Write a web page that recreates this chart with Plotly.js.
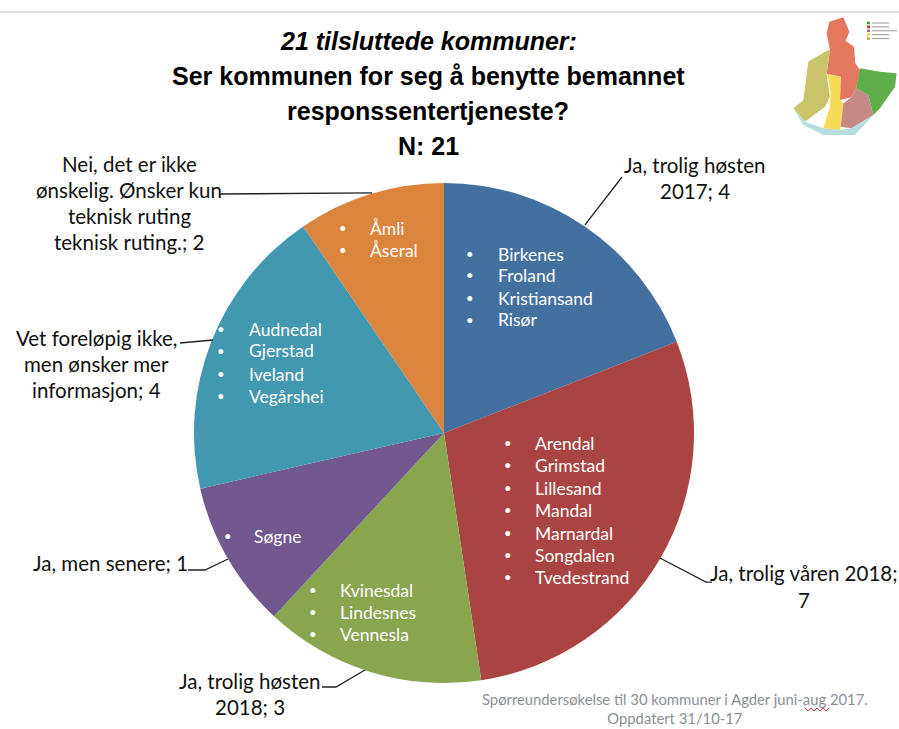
<!DOCTYPE html>
<html><head><meta charset="utf-8">
<script src="https://cdn.plot.ly/plotly-3.0.1.min.js"></script>
<style>html,body{margin:0;padding:0;background:#fff}#c{width:899px;height:729px}</style></head>
<body><div id="c"></div>
<script>
const categories = ["Ja, trolig høsten 2017","Ja, trolig våren 2018","Ja, trolig høsten 2018","Ja, men senere","Vet foreløpig ikke, men ønsker mer informasjon","Nei, det er ikke ønskelig. Ønsker kun teknisk ruting teknisk ruting."];
// Slice sizes as drawn in the picture (its printed labels say 7 and 1 for the 2nd and 4th)
const values = [4,6,3,2,4,2];
const colors = ["#44709F","#A94442","#89A54E","#71588F","#4198AF","#DB843D"];
const titleLines = ["21 tilsluttede kommuner:","Ser kommunen for seg å benytte bemannet","responssentertjeneste?","N: 21"];
const members = [
 ["Birkenes","Froland","Kristiansand","Risør"],
 ["Arendal","Grimstad","Lillesand","Mandal","Marnardal","Songdalen","Tvedestrand"],
 ["Kvinesdal","Lindesnes","Vennesla"],
 ["Søgne"],
 ["Audnedal","Gjerstad","Iveland","Vegårshei"],
 ["Åmli","Åseral"]
];
const sliceLabels = [
 ["Ja, trolig høsten","2017; 4"],
 ["Ja, trolig våren 2018;","7"],
 ["Ja, trolig høsten","2018; 3"],
 ["Ja, men senere; 1"],
 ["Vet foreløpig ikke,","men ønsker mer","informasjon; 4"],
 ["Nei, det er ikke","ønskelig. Ønsker kun","teknisk ruting","teknisk ruting.; 2"]
];
const footer = ["Spørreundersøkelse til 30 kommuner i Agder juni-aug 2017.","Oppdatert 31/10-17"];

const W=899,H=729;
const px=x=>x/W, py=y=>1-y/H;
const ann=[];
function text(t,x,y,size,color,anchor,extra){
  ann.push(Object.assign({text:t,xref:'paper',yref:'paper',x:px(x),y:py(y),xanchor:anchor||'center',yanchor:'middle',
    showarrow:false,font:{family:'Lato, sans-serif',size:size,color:color}},extra||{}));
}
// title
const titleY=[41,76,111,146];
titleLines.forEach((t,i)=>text(i==0?'<b><i>'+t+'</i></b>':'<b>'+t+'</b>',428,titleY[i],25,'#000','center',
  {font:{family:'Liberation Sans, Arial, sans-serif',size:25,color:'#000'}}));
// member lists in slices
const listPos=[[470,496,[254,275,298,320]],[508,533,[443,465,488,510,533,555,577]],[313,338,[590,612,634]],
  [228,252,[536]],[221,247,[329,351,374,396]],[343,368,[228,250]]];
members.forEach((m,k)=>m.forEach((n,i)=>{
  const p=listPos[k];
  text('•',p[0],p[2][i],13,'#fff','center');
  text(n,p[1],p[2][i],17.5,'#fff','left');
}));
// outside labels
const labelPos=[[695,[165,191]],[804,[573,600]],[250,[681,707]],[110,[563]],[96,[338,364,390]],[129,[164,190,216,242]]];
sliceLabels.forEach((ls,k)=>ls.forEach((t,i)=>text(t,labelPos[k][0],labelPos[k][1][i],20.5,'#111','center')));
// footer
text(footer.join('<br>'),675,708.5,14.8,'#8a8f96','center');

const shapes=[];
const P=pts=>pts.map((p,i)=>(i?'L':'M')+px(p[0]).toFixed(4)+','+py(p[1]).toFixed(4)).join(' ');
function line(pts,color,w){shapes.push({type:'path',xref:'paper',yref:'paper',path:P(pts),line:{color:color,width:w}});}
line([[0,12],[899,12]],'#bdbdbd',1);
// leader lines
line([[622,177],[585,225]],'#222',1.3);
line([[660,558],[706,582],[712,582]],'#222',1.3);
line([[322,687],[336,687],[365,670]],'#222',1.3);
line([[188,570],[205,570],[228,559]],'#222',1.3);
line([[180,343],[213,340]],'#222',1.3);
line([[220,194],[372,193]],'#222',1.3);
// spell-check squiggle
line([[805,708],[808,711],[811,708],[814,711],[817,708],[820,711],[823,708],[826,711],[829,708]],'#d9363a',1);
// map thumbnail (decorative, from a 3x sketch of the picture)
const mapRegions=[
 ['#E4775F',[[148,65],[190,52],[208,95],[197,122],[222,140],[226,190],[240,210],[228,265],[214,292],[180,300],[182,230],[140,222],[150,150],[140,100]]],
 ['#C9C36A',[[85,185],[140,152],[150,150],[140,222],[150,290],[135,320],[75,365],[40,325],[70,300]]],
 ['#F6DC55',[[143,222],[182,230],[180,300],[190,310],[180,390],[130,385],[150,320],[152,280]]],
 ['#C68A86',[[190,310],[214,292],[228,265],[265,285],[280,345],[215,385],[182,380]]],
 ['#5FAE4A',[[240,205],[300,215],[350,220],[345,260],[300,325],[280,345],[265,285],[228,265]]],
 ['#B7DDE0',[[40,325],[75,365],[130,385],[180,390],[215,385],[280,345],[225,405],[130,405],[70,375]]]
];
mapRegions.forEach(r=>{
  shapes.push({type:'path',xref:'paper',yref:'paper',layer:'above',fillcolor:r[0],line:{width:0},
    path:P(r[1].map(p=>[780+p[0]/3,p[1]/3]))+' Z'});
});
// map legend
const legendCols=['#4C9A3A','#C8383A','#B06A8A','#E9D44E','#B8B04A'];
legendCols.forEach((c,i)=>{
  const y=23+i*3.9;
  shapes.push({type:'rect',xref:'paper',yref:'paper',x0:px(867),x1:px(870),y0:py(y-1.3),y1:py(y+1.3),fillcolor:c,line:{width:0}});
  shapes.push({type:'line',xref:'paper',yref:'paper',x0:px(872),x1:px(889+(i==2?8:0)),y0:py(y),y1:py(y),line:{color:'#999',width:1}});
});

Plotly.newPlot('c',[{
  type:'pie',labels:categories,values:values,sort:false,direction:'clockwise',rotation:0,
  marker:{colors:colors,line:{width:0}},textinfo:'none',hoverinfo:'label+value',showlegend:false,
  domain:{x:[px(194),px(694)],y:[py(683),py(183)]}
}],{
  width:W,height:H,margin:{l:0,r:0,t:0,b:0},paper_bgcolor:'#fff',showlegend:false,
  annotations:ann,shapes:shapes
},{displayModeBar:false,staticPlot:true});
</script></body></html>
